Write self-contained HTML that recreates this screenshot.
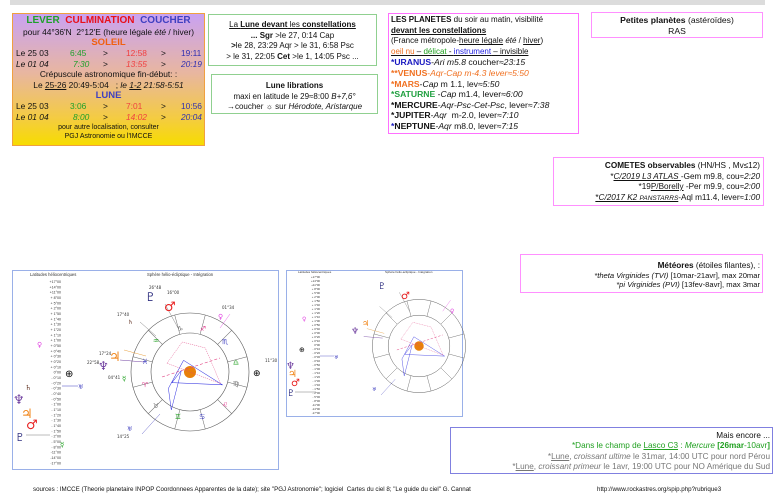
<!DOCTYPE html>
<html><head><meta charset="utf-8"><style>
*{margin:0;padding:0;box-sizing:border-box}
body{width:774px;height:503px;background:#fff;position:relative;overflow:hidden;font-family:"Liberation Sans","DejaVu Sans",sans-serif;color:#111}
.b{position:absolute}
.c{text-align:center}
.r{text-align:right}
i{font-style:italic}
u{text-decoration:underline}
.g{font-family:"DejaVu Sans",sans-serif}
</style></head><body>
<div class="b" style="left:10px;top:0;width:755px;height:5px;background:#dcdcdc"></div>

<div class="b c" style="left:12px;top:13px;width:193px;height:133px;border:1px solid #f0a040;background:linear-gradient(#c9a2f2,#e8b6a0 45%,#f4cc40 80%,#f7dc00);font-size:8.4px;line-height:10.6px">
<div style="font-weight:bold;font-size:10px;line-height:12px;margin-top:1px"><span style="color:#1fa02a">LEVER</span>&nbsp; <span style="color:#e8101a">CULMINATION</span>&nbsp; <span style="color:#4040c0">COUCHER</span></div>
<div>pour 44°36'N&nbsp; 2°12'E (heure légale <i>été</i> / hiver)</div>
<div style="color:#f06010;font-weight:bold;font-size:9.5px">SOLEIL</div>
<div style="position:relative;height:10.6px;text-align:left"><span class="b" style="left:3px">Le 25 03</span><span class="b" style="left:57px;color:#1fa02a">6:45</span><span class="b" style="left:90px">&gt;</span><span class="b" style="left:113px;color:#f04040">12:58</span><span class="b" style="left:148px">&gt;</span><span class="b" style="left:168px;color:#3030b0">19:11</span></div>
<div style="position:relative;height:10.6px;text-align:left;font-style:italic"><span class="b" style="left:3px">Le 01 04</span><span class="b" style="left:60px;color:#1fa02a">7:30</span><span class="b" style="left:90px;font-style:normal">&gt;</span><span class="b" style="left:113px;color:#f04040">13:55</span><span class="b" style="left:148px;font-style:normal">&gt;</span><span class="b" style="left:168px;color:#3030b0">20:19</span></div>
<div>Crépuscule astronomique fin-début: :</div>
<div>Le <u>25-26</u> 20:49-5:04&nbsp;&nbsp; ; <i>le <u>1-2</u> 21:58-5:51</i></div>
<div style="color:#4040c0;font-weight:bold;font-size:9.5px">LUNE</div>
<div style="position:relative;height:10.6px;text-align:left"><span class="b" style="left:3px">Le 25 03</span><span class="b" style="left:57px;color:#1fa02a">3:06</span><span class="b" style="left:90px">&gt;</span><span class="b" style="left:113px;color:#f04040">7:01</span><span class="b" style="left:148px">&gt;</span><span class="b" style="left:168px;color:#3030b0">10:56</span></div>
<div style="position:relative;height:10.6px;text-align:left;font-style:italic"><span class="b" style="left:3px">Le 01 04</span><span class="b" style="left:60px;color:#1fa02a">8:00</span><span class="b" style="left:90px;font-style:normal">&gt;</span><span class="b" style="left:113px;color:#f04040">14:02</span><span class="b" style="left:148px;font-style:normal">&gt;</span><span class="b" style="left:168px;color:#3030b0">20:04</span></div>
<div style="font-size:7px;line-height:9px;margin-top:1px">pour autre localisation, consulter<br>PGJ Astronomie ou l'IMCCE</div>
</div>

<div class="b c" style="left:208px;top:14px;width:169px;height:52px;border:1px solid #90d090;font-size:8px;line-height:10.5px;padding-top:5px">
<div><u>La <b>Lune devant</b> les <b>constellations</b> </u></div>
<div><b>... Sgr</b> &gt;le 27, 0:14 Cap</div>
<div><b>&gt;</b>le 28, 23:29 Aqr &gt; le 31, 6:58 Psc</div>
<div>&gt; le 31, 22:05 <b>Cet</b> &gt;le 1, 14:05 Psc ...</div>
</div>

<div class="b c" style="left:211px;top:74px;width:167px;height:40px;border:1px solid #90d090;font-size:8px;line-height:10.5px;padding-top:6px">
<div><b>Lune librations</b></div>
<div>maxi en latitude le 29≈8:00 <i>B+7,6°</i></div>
<div>→coucher ☼ sur <i>Hérodote, Aristarque</i></div>
</div>

<div class="b" style="left:388px;top:13px;width:191px;height:121px;border:1px solid #ff70ff;font-size:8px;line-height:10.6px;padding:1px 2px">
<div><b>LES PLANETES</b> du soir au matin, visibilité</div>
<div><b><u>devant les constellations</u></b></div>
<div>(France métropole-<u>heure légale</u> <i>été</i> / <u>hiver</u>)</div>
<div><u><span style="color:#f07020">oeil nu</span> – <span style="color:#20a020">délicat</span> - <span style="color:#2020e0">instrument</span> – invisible</u></div>
<div style="font-size:8.6px"><b style="color:#1818c0">*URANUS</b>-<i>Ari m5.8</i> coucher≈<i>23:15</i></div>
<div style="font-size:8.6px;color:#f07020"><b>**VENUS</b>-<i>Aqr-Cap m-4.3 lever≈5:50</i></div>
<div style="font-size:8.6px"><b style="color:#f07020">*MARS</b>-<i>Cap</i> m 1.1, lev≈<i>5:50</i></div>
<div style="font-size:8.6px"><b style="color:#20a040">*SATURNE</b> -<i>Cap</i> m1.4, lever≈<i>6:00</i></div>
<div style="font-size:8.6px"><b>*MERCURE</b>-<i>Aqr-Psc-Cet-Psc</i>, lever≈<i>7:38</i></div>
<div style="font-size:8.6px"><b>*JUPITER</b>-<i>Aqr</i>&nbsp; m-2.0, lever≈<i>7:10</i></div>
<div style="font-size:8.6px"><b><span style="color:#1818c0">*</span>NEPTUNE</b>-<i>Aqr</i> m8.0, lever≈<i>7:15</i></div>
</div>

<div class="b c" style="left:591px;top:12px;width:172px;height:26px;border:1px solid #ff90ff;font-size:8.6px;line-height:10.5px;padding-top:2px">
<div><b>Petites planètes</b> (astéroïdes)</div><div>RAS</div></div>

<div class="b r" style="left:553px;top:157px;width:211px;height:49px;border:1px solid #ff90ff;font-size:8.2px;line-height:10.5px;padding:3px 3px 0 0">
<div><b>COMETES observables</b> (HN/HS , Mv≤12)</div>
<div>*<u><i>C/2019 L3 ATLAS </i></u>-Gem m9.8, cou≈<i>2:20</i></div>
<div>*19<u>P/Borelly</u> -Per m9.9, cou≈<i>2:00</i></div>
<div><u>*<i>C/2017 K2 <span style="font-size:6.5px">PANSTARRS</span></i></u>-Aql m11.4, lever≈<i>1:00</i></div>
</div>

<div class="b r" style="left:520px;top:254px;width:243px;height:39px;border:1px solid #ff90ff;font-size:7.6px;line-height:9.6px;padding:6px 2px 0 0">
<div style="font-size:8.2px"><b>Météores</b> (étoiles filantes), :</div>
<div><i>*theta Virginides (TVI)</i> [10mar-21avr], max 20mar</div>
<div><i>*pi Virginides (PVI)</i> [13fev-8avr], max 3mar</div>
</div>

<div class="b r" style="left:450px;top:427px;width:323px;height:47px;border:1px solid #8080e0;font-size:8.2px;line-height:10.4px;padding:3px 2px 0 0">
<div>Mais encore ...</div>
<div style="color:#20a020">*Dans le champ de <u>Lasco C3</u> : <i>Mercure</i> <b>[26mar</b>-10avr<b>]</b></div>
<div style="color:#777">*<u>Lune</u>, <i>croissant ultime</i> le 31mar, 14:00 UTC pour nord Pérou</div>
<div style="color:#777">*<u>Lune</u>, <i>croissant primeur</i> le 1avr, 19:00 UTC pour NO Amérique du Sud</div>
</div>

<div class="b" style="left:33px;top:486px;font-size:6.2px;white-space:nowrap">sources : IMCCE (Theorie planetaire INPOP Coordonnees Apparentes de la date); site "PGJ Astronomie"; logiciel&nbsp; Cartes du ciel 8; "Le guide du ciel" G. Cannat</div>
<div class="b" style="left:597px;top:486px;font-size:6.2px;white-space:nowrap">http://www.rockastres.org/spip.php?rubrique3</div>

<svg class="b" style="left:0;top:0" width="774" height="503" viewBox="0 0 774 503" font-family="Liberation Sans, sans-serif">
<defs>
<g id="wh">
<circle r="59" fill="none" stroke="#555" stroke-width="0.6"/>
<circle r="39" fill="none" stroke="#555" stroke-width="0.6"/>
<g stroke="#666" stroke-width="0.5">
<line x1="39" y1="0" x2="59" y2="0" transform="rotate(15)"/><line x1="39" y1="0" x2="59" y2="0" transform="rotate(45)"/>
<line x1="39" y1="0" x2="59" y2="0" transform="rotate(75)"/><line x1="39" y1="0" x2="59" y2="0" transform="rotate(105)"/>
<line x1="39" y1="0" x2="59" y2="0" transform="rotate(135)"/><line x1="39" y1="0" x2="59" y2="0" transform="rotate(165)"/>
<line x1="39" y1="0" x2="59" y2="0" transform="rotate(195)"/><line x1="39" y1="0" x2="59" y2="0" transform="rotate(225)"/>
<line x1="39" y1="0" x2="59" y2="0" transform="rotate(255)"/><line x1="39" y1="0" x2="59" y2="0" transform="rotate(285)"/>
<line x1="39" y1="0" x2="59" y2="0" transform="rotate(315)"/><line x1="39" y1="0" x2="59" y2="0" transform="rotate(345)"/>
</g>
<circle r="6" fill="#e8800a"/>
<polyline points="-9,-44 -30,-5 -26,25 -12,-30 -25,-13 45,-10 -9,-44" fill="none" stroke="#3030e0" stroke-width="0.7" transform="translate(0,20) scale(0.72)"/>
<polyline points="-20,-15 -2,-40 25,-33 43,9 -20,-15" fill="none" stroke="#e04080" stroke-width="0.5" stroke-dasharray="1.5,1" transform="translate(-6,4) scale(0.85)"/>
<line x1="-28" y1="5" x2="30" y2="-14" stroke="#e04080" stroke-width="0.6" stroke-dasharray="3,2"/>
<line x1="-25" y1="-68" x2="-12" y2="-44" stroke="#666" stroke-width="0.4"/>
<line x1="-50" y1="-50" x2="-34" y2="-36" stroke="#666" stroke-width="0.4"/>
<line x1="-66" y1="-22" x2="-44" y2="-16" stroke="#e8a040" stroke-width="0.5"/>
<line x1="-70" y1="-12" x2="-46" y2="-10" stroke="#7040a0" stroke-width="0.5"/>
<line x1="-48" y1="62" x2="-30" y2="42" stroke="#4040c0" stroke-width="0.4"/>
<line x1="40" y1="-58" x2="30" y2="-44" stroke="#e040e0" stroke-width="0.4"/>
</g>
</defs>
<!-- chart 1 -->
<rect x="12.5" y="270.5" width="266" height="199" fill="#fff" stroke="#9ab0e8" stroke-width="1"/>
<text x="30" y="276" font-size="4.2" fill="#333">Latitudes héliocentriques</text>
<text x="147" y="276" font-size="4.2" fill="#333">Sphère hélio-écliptique - Intégration</text>
<g font-size="3.6" fill="#333" text-anchor="end">
<text x="61" y="283">+17°00</text><text x="61" y="288.3">+14°00</text><text x="61" y="293.7">+11°00</text><text x="61" y="299">+ 8°00</text><text x="61" y="304.4">+ 5°00</text><text x="61" y="309.7">+ 2°00</text><text x="61" y="315">+ 1°50</text><text x="61" y="320.4">+ 1°40</text><text x="61" y="325.7">+ 1°30</text><text x="61" y="331">+ 1°20</text><text x="61" y="336.4">+ 1°10</text><text x="61" y="341.7">+ 1°00</text><text x="61" y="347">+ 0°50</text><text x="61" y="352.4">+ 0°40</text><text x="61" y="357.7">+ 0°30</text><text x="61" y="363">+ 0°20</text><text x="61" y="368.4">+ 0°10</text><text x="61" y="373.7">0°00</text><text x="61" y="379">- 0°10</text><text x="61" y="384.4">- 0°20</text><text x="61" y="389.7">- 0°30</text><text x="61" y="395">- 0°40</text><text x="61" y="400.4">- 0°50</text><text x="61" y="405.7">- 1°00</text><text x="61" y="411">- 1°10</text><text x="61" y="416.4">- 1°20</text><text x="61" y="421.7">- 1°30</text><text x="61" y="427">- 1°40</text><text x="61" y="432.4">- 1°50</text><text x="61" y="437.7">- 2°00</text><text x="61" y="443">- 5°00</text><text x="61" y="448.4">- 8°00</text><text x="61" y="453.7">-11°00</text><text x="61" y="459">-14°00</text><text x="61" y="464.4">-17°00</text>
</g>
<g class="g" font-family="DejaVu Sans, sans-serif">
<text x="65" y="377" font-size="10" fill="#000">⊕</text>
<text x="37" y="347" font-size="7" fill="#e040e0">♀&#xFE0E;</text>
<line x1="62" y1="386" x2="78" y2="386" stroke="#4040c0" stroke-width="0.5"/><text x="78" y="389" font-size="6" fill="#4040c0">♅&#xFE0E;</text>
<text x="25" y="390" font-size="7" fill="#603020">♄&#xFE0E;</text>
<text x="13" y="404" font-size="13" fill="#7040a0" font-weight="bold">♆&#xFE0E;</text>
<text x="21" y="418" font-size="13" fill="#f08010" font-weight="bold">♃&#xFE0E;</text>
<text x="26" y="429" font-size="13" fill="#e82020" font-weight="bold">♂&#xFE0E;</text>
<text x="15" y="441" font-size="11" fill="#303080" font-weight="bold">♇&#xFE0E;</text>
<line x1="26" y1="435" x2="50" y2="435" stroke="#555" stroke-width="0.4"/>
<text x="60" y="447" font-size="7" fill="#20a020">☿&#xFE0E;</text>
</g>
<use href="#wh" transform="translate(190,372)"/>
<g font-size="7" text-anchor="middle" font-family="DejaVu Sans, sans-serif">
<text x="180" y="331" fill="#777">♑&#xFE0E;</text><text x="203" y="331" fill="#e04090">♐&#xFE0E;</text><text x="225" y="344" fill="#4040c0">♏&#xFE0E;</text>
<text x="236" y="365" fill="#20a020">♎&#xFE0E;</text><text x="236" y="386" fill="#777">♍&#xFE0E;</text><text x="225" y="407" fill="#e04090">♌&#xFE0E;</text>
<text x="202" y="419" fill="#4040c0">♋&#xFE0E;</text><text x="178" y="419" fill="#20a020">♊&#xFE0E;</text><text x="156" y="408" fill="#777">♉&#xFE0E;</text>
<text x="145" y="387" fill="#e04090">♈&#xFE0E;</text><text x="145" y="364" fill="#4040c0">♓&#xFE0E;</text><text x="156" y="343" fill="#20a020">♒&#xFE0E;</text>
</g>
<g font-family="DejaVu Sans, sans-serif">
<text x="149" y="289" font-size="4" fill="#333">26°48</text><text x="145" y="301" font-size="12" fill="#303080" font-weight="bold">♇&#xFE0E;</text>
<text x="167" y="294" font-size="4" fill="#333">16°00</text><text x="164" y="311" font-size="13" fill="#e82020" font-weight="bold">♂&#xFE0E;</text>
<text x="222" y="309" font-size="4" fill="#333">01°34</text><text x="218" y="319" font-size="7" fill="#e040e0">♀&#xFE0E;</text>
<text x="117" y="316" font-size="4" fill="#333">17°40</text><text x="128" y="324" font-size="6" fill="#603020">♄&#xFE0E;</text>
<text x="99" y="355" font-size="4" fill="#333">17°24</text><text x="109" y="361" font-size="13" fill="#f08010" font-weight="bold">♃&#xFE0E;</text>
<text x="87" y="364" font-size="4" fill="#333">22°58</text><text x="98" y="370" font-size="12" fill="#7040a0" font-weight="bold">♆&#xFE0E;</text>
<text x="108" y="379" font-size="4" fill="#333">04°41</text><text x="122" y="381" font-size="7" fill="#20a020">☿&#xFE0E;</text>
<text x="127" y="431" font-size="6" fill="#4040c0">♅&#xFE0E;</text><text x="117" y="438" font-size="4" fill="#333">14°25</text>
<text x="253" y="376" font-size="9" fill="#000">⊕</text><text x="265" y="362" font-size="4" fill="#333">11°30</text>
</g>
<!-- chart 2 -->
<rect x="286.5" y="270.5" width="176" height="146" fill="#fff" stroke="#9ab0e8" stroke-width="1"/>
<text x="298" y="273" font-size="3" fill="#333">Latitudes héliocentriques</text>
<text x="385" y="273" font-size="3" fill="#333">Sphère hélio-écliptique - Intégration</text>
<g font-size="2.8" fill="#333" text-anchor="end">
<text x="320" y="278">+17°00</text><text x="320" y="282">+14°00</text><text x="320" y="286">+11°00</text><text x="320" y="290">+ 8°00</text><text x="320" y="294">+ 5°00</text><text x="320" y="298">+ 2°00</text><text x="320" y="302">+ 1°50</text><text x="320" y="306">+ 1°40</text><text x="320" y="310">+ 1°30</text><text x="320" y="314">+ 1°20</text><text x="320" y="318">+ 1°10</text><text x="320" y="322">+ 1°00</text><text x="320" y="326">+ 0°50</text><text x="320" y="330">+ 0°40</text><text x="320" y="334">+ 0°30</text><text x="320" y="338">+ 0°20</text><text x="320" y="342">+ 0°10</text><text x="320" y="346">0°00</text><text x="320" y="350">- 0°10</text><text x="320" y="354">- 0°20</text><text x="320" y="358">- 0°30</text><text x="320" y="362">- 0°40</text><text x="320" y="366">- 0°50</text><text x="320" y="370">- 1°00</text><text x="320" y="374">- 1°10</text><text x="320" y="378">- 1°20</text><text x="320" y="382">- 1°30</text><text x="320" y="386">- 1°40</text><text x="320" y="390">- 1°50</text><text x="320" y="394">- 2°00</text><text x="320" y="398">- 5°00</text><text x="320" y="402">- 8°00</text><text x="320" y="406">-11°00</text><text x="320" y="410">-14°00</text><text x="320" y="414">-17°00</text>
</g>
<use href="#wh" transform="translate(419,346) scale(0.79)"/>
<g font-family="DejaVu Sans, sans-serif">
<text x="299" y="352" font-size="7" fill="#000">⊕</text>
<text x="302" y="321" font-size="6" fill="#e040e0">♀&#xFE0E;</text>
<line x1="320" y1="356" x2="334" y2="356" stroke="#4040c0" stroke-width="0.4"/><text x="334" y="359" font-size="5" fill="#4040c0">♅&#xFE0E;</text>
<text x="286" y="369" font-size="10" fill="#7040a0" font-weight="bold">♆&#xFE0E;</text>
<text x="288" y="377" font-size="10" fill="#f08010" font-weight="bold">♃&#xFE0E;</text>
<text x="291" y="386" font-size="10" fill="#e82020" font-weight="bold">♂&#xFE0E;</text>
<text x="287" y="396" font-size="9" fill="#303080" font-weight="bold">♇&#xFE0E;</text>
<line x1="295" y1="392" x2="316" y2="392" stroke="#555" stroke-width="0.4"/>
<text x="378" y="289" font-size="9" fill="#303080" font-weight="bold">♇&#xFE0E;</text>
<text x="401" y="299" font-size="10" fill="#e82020" font-weight="bold">♂&#xFE0E;</text>
<text x="450" y="313" font-size="6" fill="#e040e0">♀&#xFE0E;</text>
<text x="362" y="326" font-size="8" fill="#f08010" font-weight="bold">♃&#xFE0E;</text>
<text x="351" y="334" font-size="9" fill="#7040a0" font-weight="bold">♆&#xFE0E;</text>
<text x="372" y="391" font-size="5" fill="#4040c0">♅&#xFE0E;</text>
</g>
</svg>
</body></html>
